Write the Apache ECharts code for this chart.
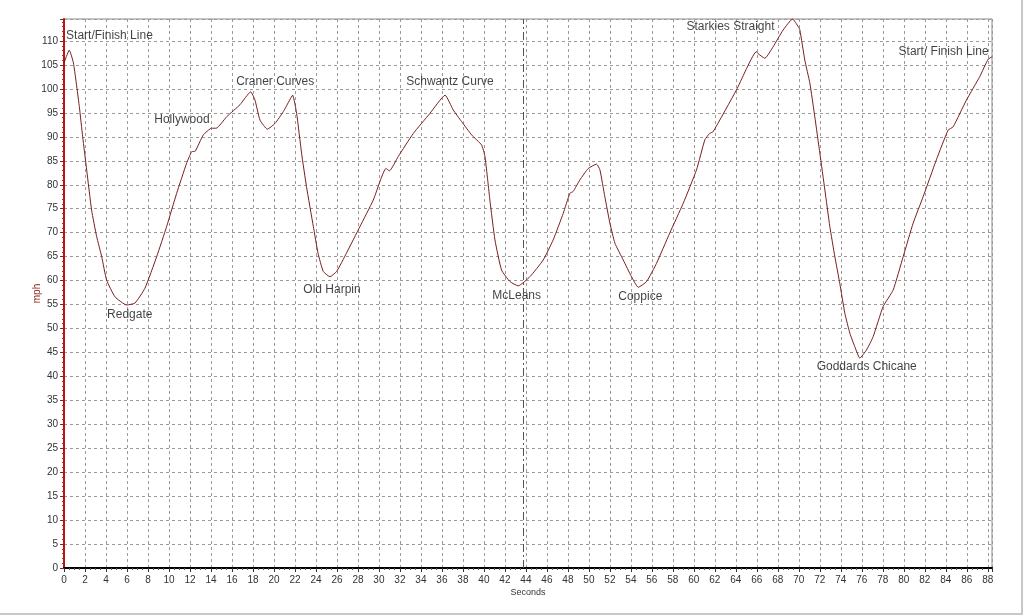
<!DOCTYPE html>
<html>
<head>
<meta charset="utf-8">
<script src="https://cdn.jsdelivr.net/npm/echarts@6/dist/echarts.min.js"></script>
<style>
html,body{margin:0;padding:0;background:#fff;}
#wrap{position:relative;width:1024px;height:616px;}
#chart{width:1024px;height:616px;}
#fr{position:absolute;left:0;top:0;width:1021px;height:613px;border-right:2px solid #c8c8c8;border-bottom:2px solid #c8c8c8;pointer-events:none;}
</style>
</head>
<body>
<div id="wrap"><div id="chart"></div><div id="fr"></div></div>
<script>
// Lap time (s) and speed (mph)
const seconds = [0, 0.5, 0.9, 1.46, 1.78, 2.16, 2.63, 3.11, 3.59, 4.06, 4.86, 5.97, 6.76, 7.71, 8.83, 9.78, 10.73, 11.68, 12.16, 12.5, 13.27, 14.06, 14.5, 15.5, 16.76, 17.78, 18.19, 18.67, 19.37, 20.1, 20.9, 21.5, 21.78, 22.16, 22.63, 23.1, 23.75, 24.2, 24.7, 25.33, 25.97, 26.9, 28.2, 29.46, 30.67, 31.0, 31.84, 33.27, 34.86, 36.3, 37.08, 37.87, 38.83, 39.78, 40.1, 40.57, 41.05, 41.68, 42.48, 43.27, 44.38, 45.65, 46.6, 47.55, 48.19, 48.5, 49.14, 49.94, 50.73, 51.05, 51.52, 52.0, 52.48, 53.27, 54.06, 54.7, 55.5, 56.44, 57.7, 58.98, 60.25, 61.05, 61.5, 61.84, 64.06, 65.97, 66.1, 66.76, 67.55, 68.5, 69.4, 69.94, 70.1, 70.57, 71.05, 71.52, 72.0, 72.48, 72.95, 73.43, 73.9, 74.38, 74.86, 75.33, 75.81, 76.44, 77.08, 78.03, 78.98, 79.94, 80.89, 81.84, 83.1, 84.22, 84.7, 85.97, 87.24, 88.03, 88.4];
const speed = [105.4, 108.1, 105.4, 96.3, 90, 83.1, 74.7, 69.2, 65, 60.1, 56.6, 54.9, 55.3, 58.4, 65, 71.3, 78.2, 84.5, 86.9, 87, 90.4, 91.8, 91.8, 94.2, 96.7, 99.4, 97.7, 93.5, 91.6, 92.8, 95.3, 97.7, 98.7, 94.9, 86.6, 79.6, 71.3, 65.7, 61.9, 60.8, 61.9, 65.7, 71.3, 76.8, 83.4, 82.9, 85.9, 90.7, 94.9, 98.7, 95.6, 93.2, 90.4, 88.3, 85.9, 76.8, 68.5, 62.2, 59.8, 58.9, 60.8, 64.3, 68.5, 74, 78.2, 78.6, 81, 83.4, 84.3, 83.1, 77.5, 72, 67.8, 64.3, 60.8, 58.6, 59.8, 63.6, 69.9, 76.1, 83.1, 89.4, 90.7, 91.1, 99.8, 107.8, 107.4, 106.4, 108.8, 112.3, 114.6, 113, 112.3, 106, 101.2, 94.2, 86.6, 78.9, 71.3, 65, 59.4, 53.2, 49, 46.2, 43.8, 45.5, 48.3, 54.6, 58, 65, 72, 77.5, 85.2, 91.4, 92.1, 97.7, 102.6, 106.2, 106.7];
// Corner annotations: name, anchor time, anchor speed
const cornerNames = ['Start/Finish Line', 'Redgate', 'Hollywood', 'Craner Curves', 'Old Harpin', 'Schwantz Curve', 'McLeans', 'Coppice', 'Starkies Straight', 'Goddards Chicane', 'Start/ Finish Line'];
const cornerTime = [0.2, 4.1, 8.6, 16.4, 22.8, 32.6, 40.8, 52.8, 59.3, 71.7, 79.5];
const cornerSpeed = [111.1, 52.8, 93.5, 101.5, 58.0, 101.5, 56.8, 56.6, 112.9, 42.0, 107.7];
const markerTime = 43.7;

const lineData = seconds.map((t, i) => [t, speed[i]]);
const labelData = cornerNames.map((n, i) => ({ name: n, value: [cornerTime[i], cornerSpeed[i]] }));

const chart = echarts.init(document.getElementById('chart'), null, { renderer: 'canvas' });
const font = 'Liberation Sans, Arial, sans-serif';
chart.setOption({
  animation: false,
  backgroundColor: '#ffffff',
  grid: { left: 64, right: 32, top: 19, bottom: 48, show: true, borderColor: '#8a8a8a', borderWidth: 1, backgroundColor: '#fff' },
  xAxis: {
    type: 'value', min: 0, max: 88.4, interval: 2,
    name: 'Seconds', nameLocation: 'middle', nameGap: 20, nameMoveOverlap: false,
    nameTextStyle: { fontFamily: font, fontSize: 9, color: '#333' },
    axisLine: { onZero: false, lineStyle: { color: '#000', width: 2 } },
    axisTick: { show: true, length: 4, lineStyle: { color: '#333' } },
    minorTick: { show: true, splitNumber: 4, length: 2, lineStyle: { color: '#555' } },
    axisLabel: { fontFamily: font, fontSize: 10, color: '#333', margin: 7, showMaxLabel: false },
    splitLine: { show: true, lineStyle: { color: '#9a9a9a', type: [3, 3], width: 1 } }
  },
  yAxis: {
    type: 'value', min: 0, max: 114.6, interval: 5,
    name: 'mph', nameLocation: 'middle', nameGap: 22, nameRotate: 90, nameMoveOverlap: false,
    nameTextStyle: { fontFamily: font, fontSize: 10, color: '#8b2020' },
    axisLine: { show: true, lineStyle: { color: '#c01010', width: 2 } },
    axisTick: { show: true, length: 4, lineStyle: { color: '#8b2020' } },
    minorTick: { show: true, splitNumber: 5, length: 2, lineStyle: { color: '#a03030' } },
    axisLabel: { fontFamily: font, fontSize: 10, color: '#333', margin: 6, showMaxLabel: false },
    splitLine: { show: true, lineStyle: { color: '#9a9a9a', type: [3, 3], width: 1 } }
  },
  series: [
    {
      type: 'line', data: lineData, showSymbol: false, smooth: 0.15,
      lineStyle: { color: '#7a1e1e', width: 1 },
      markLine: {
        silent: true, symbol: ['none', 'none'],
        label: { show: false },
        lineStyle: { color: '#555', type: [8, 3, 2, 3], width: 1 },
        data: [{ xAxis: markerTime }]
      }
    },
    {
      type: 'scatter', data: labelData, symbolSize: 0, silent: true,
      label: {
        show: true, position: 'inside', align: 'left', verticalAlign: 'middle',
        formatter: p => p.name, fontFamily: font, fontSize: 12, color: '#111'
      }
    }
  ]
});
</script>
</body>
</html>
